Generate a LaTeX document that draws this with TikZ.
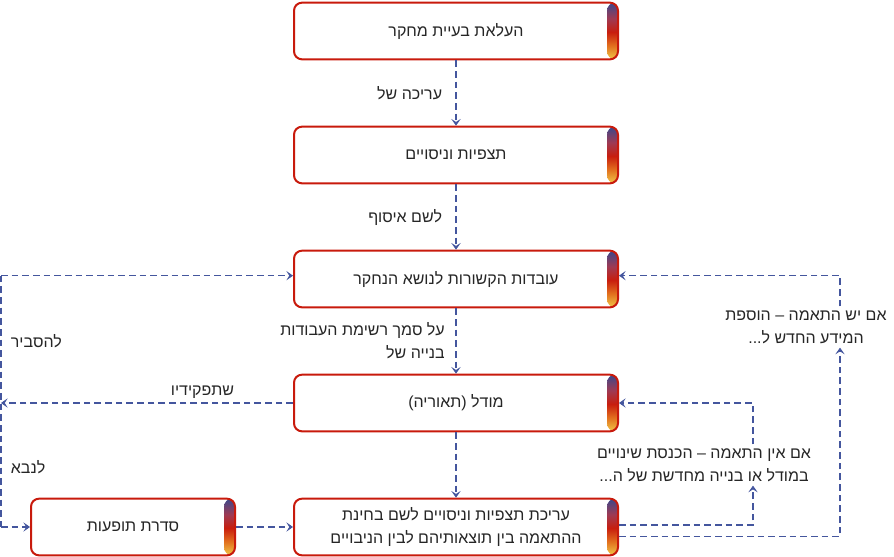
\documentclass[tikz,border=0pt]{standalone}
\usepackage{fontspec}
\usepackage{xcolor}
\usepackage{tikz}
\usetikzlibrary{positioning,calc,arrows.meta}
\newfontfamily\hebfont[Script=Hebrew]{Liberation Sans}
\TeXXeTstate=1
\newcommand{\hebline}[1]{\beginR #1\endR}
\definecolor{BoxRed}{RGB}{200,26,12}
\definecolor{FlowBlue}{RGB}{68,86,158}
\definecolor{InkGray}{RGB}{38,38,38}
\definecolor{StripBlue}{RGB}{58,72,140}
\definecolor{StripMauve}{RGB}{158,58,84}
\definecolor{StripRed}{RGB}{200,30,14}
\definecolor{StripOrange}{RGB}{226,112,30}
\definecolor{StripYellow}{RGB}{240,200,72}
% tikz maps the box onto the middle 25bp..75bp of the shading
\pgfdeclareverticalshading{stripshade}{100bp}{color(0bp)=(StripYellow); color(25bp)=(StripYellow); color(37bp)=(StripOrange); color(49bp)=(StripRed); color(61bp)=(StripMauve); color(75bp)=(StripBlue); color(100bp)=(StripBlue)}
\tikzset{
    stagebox/.style={rectangle, rounded corners=6pt, draw=BoxRed, line width=1.5pt, fill=white, minimum width=243pt, minimum height=42.5pt, inner sep=2pt, font=\hebfont\fontsize{12}{17}\selectfont, text=InkGray, align=center,
        path picture={\shade[shading=stripshade] ([xshift=-8.25pt]path picture bounding box.north east) rectangle (path picture bounding box.south east);}},
    flow/.style={draw=FlowBlue, line width=0.9pt, dash pattern=on 5pt off 3pt, -{Stealth[length=5pt,width=7pt,inset=2.2pt]}},
    flowlabel/.style={font=\hebfont\fontsize{12}{17}\selectfont, text=InkGray, inner sep=3pt}
}
\begin{document}
\begin{tikzpicture}[
    x=0.75pt, y=-0.75pt,
    node distance=49pt,
    % smaller box on the left
    sidebox/.style={stagebox, minimum width=153pt}
]
    \path[use as bounding box] (0,0) rectangle (894,557);

    % --- main column ---
    \node[stagebox] (problem) at (456,31) {\hebline{העלאת בעיית מחקר}};
    \node[stagebox, below=of problem] (observe) {\hebline{תצפיות וניסויים}};
    \node[stagebox, below=of observe] (facts) {\hebline{עובדות הקשורות לנושא הנחקר}};
    \node[stagebox, below=of facts] (model) {\hebline{מודל (תאוריה)}};
    \node[stagebox, below=of model] (test) {\hebline{עריכת תצפיות וניסויים לשם בחינת}\\\hebline{ההתאמה בין תוצאותיהם לבין הניבויים}};
    % phenomena
    \node[sidebox, left=42.75pt of test] (phenom) {\hebline{סדרת תופעות}};

    % --- down the column ---
    \draw[flow] (problem) -- (observe) node[midway, left=7pt, flowlabel] {\hebline{עריכה של}};
    \draw[flow] (observe) -- (facts) node[midway, left=7pt, flowlabel] {\hebline{לשם איסוף}};
    \draw[flow] (facts) -- (model) node[midway, left=5pt, flowlabel, align=right] {\hebline{על סמך רשימת העבודות}\\\hebline{בנייה של}};
    \draw[flow] (model) -- (test);
    \draw[flow] (phenom) -- (test);

    % --- left loop ---
    \path (model.west) -- ++(-292,0) coordinate (lft);
    \coordinate (factsin) at ([yshift=2.5pt]facts.west);
    \draw[flow] (model.west) -- (lft) node[pos=0.31, above, flowlabel] {\hebline{שתפקידיו}};
    \draw[flow, -] (lft |- factsin) -- (lft |- phenom.west)
        node[pos=0.26, right=4pt, flowlabel] {\hebline{להסביר}}
        node[pos=0.76, right=4pt, flowlabel] {\hebline{לנבא}};
    \draw[flow] (lft |- factsin) -- (factsin);
    \draw[flow] (lft |- phenom.west) -- (phenom.west);

    % --- right loops ---
    \node[flowlabel, align=center] (nofit) at (704,465) {\hebline{אם אין התאמה – הכנסת שינויים}\\\hebline{במודל או בנייה מחדשת של ה...}};
    \node[flowlabel, align=center] (yesfit) at (806,327) {\hebline{אם יש התאמה – הוספת}\\\hebline{המידע החדש ל...}};
    \coordinate (nocol) at (753,0);
    \coordinate (yescol) at (840,0);
    \draw[flow] ([yshift=1.5pt]test.east) -| (nofit.south -| nocol);
    \draw[flow] (nofit.north -| nocol) |- (model.east);
    \draw[flow] ([yshift=-7pt]test.east) -| (yesfit.south -| yescol);
    \draw[flow] (yesfit.north -| yescol) |- ([yshift=2.5pt]facts.east);
\end{tikzpicture}
\end{document}
